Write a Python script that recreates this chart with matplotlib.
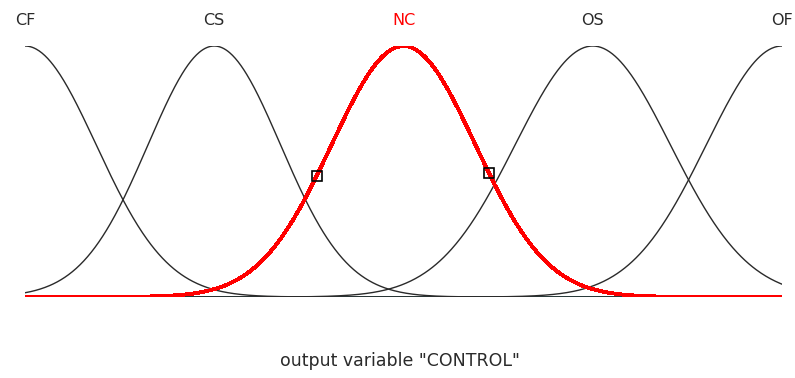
import matplotlib.pyplot as plt
import numpy as np

# membership functions of the output variable
names = ["CF", "CS", "NC", "OS", "OF"]
centers = [-1.0, -0.5, 0.0, 0.5, 1.0]
sigmas = [0.188, 0.175, 0.19, 0.205, 0.20]
active = "NC"
marker_x = [-0.229, 0.226]

plt.rcParams["font.family"] = ["DejaVu Sans"]

fig = plt.figure(figsize=(7.95, 3.78), dpi=100)
ax = fig.add_axes([25 / 795, 81 / 378, 757 / 795, 251 / 378])

x = np.linspace(-1, 1, 800)

def gauss(v, c, s):
    return np.exp(-(v - c) ** 2 / (2 * s ** 2))

ax.axhline(0, color="#00e5ee", lw=1.2, zorder=1)

for name, c, s in zip(names, centers, sigmas):
    if name == active:
        ax.plot(x, gauss(x, c, s), color="red", lw=2.1, zorder=3,
                antialiased=False, solid_capstyle="butt")
    else:
        ax.plot(x, gauss(x, c, s), color="#2a2a2a", lw=1.0, zorder=2)
    ax.text(c, 1.1, name, ha="center", va="center", fontsize=11.5,
            color="red" if name == active else "#2a2a2a")

i_act = names.index(active)
mx = np.array(marker_x)
ax.plot(mx, gauss(mx, centers[i_act], sigmas[i_act]), ls="none", marker="s",
        ms=7, mfc="none", mec="black", mew=1.2, zorder=4)

ax.set_xlim(-1, 1)
ax.set_ylim(0, 1)
ax.axis("off")

fig.text(400 / 795, 1 - 361 / 378, 'output variable "CONTROL"',
         ha="center", va="center", fontsize=12.5, color="#2a2a2a")

fig.savefig("out.png", dpi=100)
